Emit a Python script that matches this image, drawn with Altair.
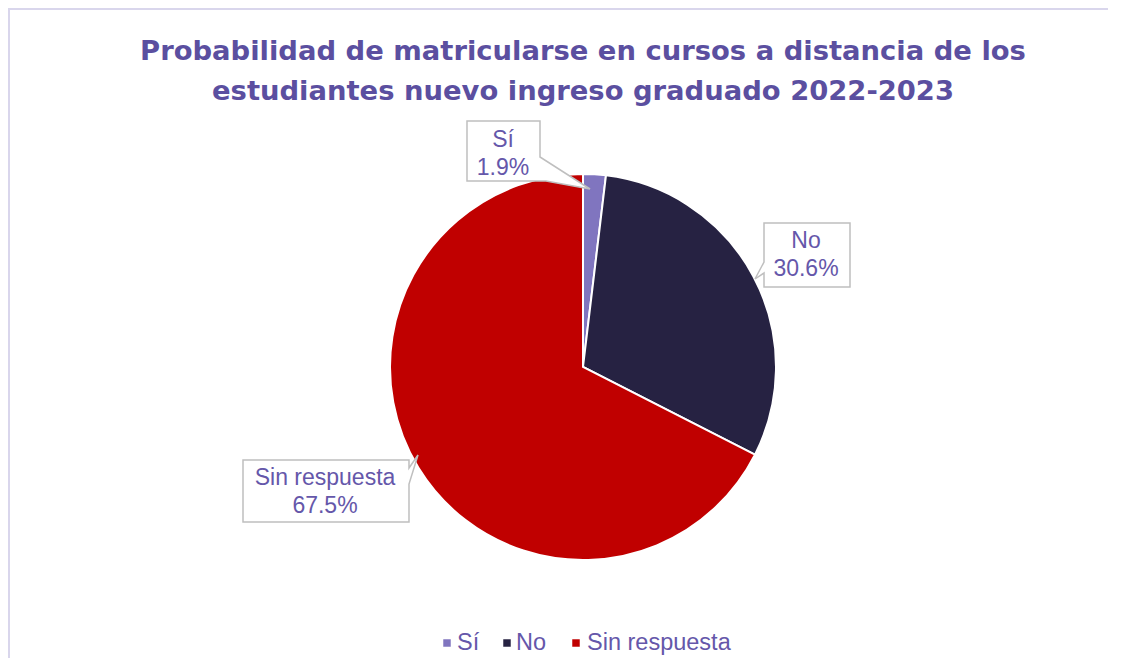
import altair as alt
import pandas as pd

# ---- data ----
categories = ["Sí", "No", "Sin respuesta"]
percentages = [1.9, 30.6, 67.5]
colors = ["#8075BF", "#262242", "#C00000"]
title_lines = [
    "Probabilidad de matricularse en cursos a distancia de los",
    "estudiantes nuevo ingreso graduado 2022-2023",
]

df = pd.DataFrame({"cat": categories, "pct": percentages, "idx": list(range(len(categories)))})

W, H = 1100, 650
PURPLE = "#5B4FA0"
LABEL_PURPLE = "#6557AA"
FONT = "Liberation Sans"


# page coords -> chart coords (8px body margin)
def px(v):
    return v - 8


one = pd.DataFrame({"a": [0]})
FRAME_COLOR = "#D9D6EC"
frame_top = alt.Chart(one).mark_rule(stroke=FRAME_COLOR, strokeWidth=2).encode(
    x=alt.value(0), x2=alt.value(W + 40), y=alt.value(1)
)
frame_left = alt.Chart(one).mark_rule(stroke=FRAME_COLOR, strokeWidth=2).encode(
    x=alt.value(1), y=alt.value(0), y2=alt.value(H + 10)
)

color_scale = alt.Scale(domain=categories, range=colors)

# pie
pie = alt.Chart(df).mark_arc(radius=193, stroke="white", strokeWidth=2).encode(
    theta=alt.Theta("pct:Q", stack=True),
    order=alt.Order("idx:Q"),
    color=alt.Color("cat:N", scale=color_scale, sort=categories, legend=None),
    x=alt.value(px(583)),
    y=alt.value(px(367)),
)


def callout_path(points, cx, cy, h):
    parts = []
    for i, (x, y) in enumerate(points):
        parts.append(("M" if i == 0 else "L") + f"{(x - cx) / h:.4f},{(y - cy) / h:.4f}")
    return " ".join(parts) + " Z"


callouts_geo = {
    "Sí": ([(467, 121), (540, 121), (540, 157), (590, 189), (546, 181), (467, 181)], 529, 155, 64),
    "No": ([(764, 223), (850, 223), (850, 287), (764, 287), (764, 273), (755, 279), (764, 262)], 802.5, 255, 50),
    "Sin respuesta": ([(243, 460), (409, 460), (409, 468), (418, 455), (409, 484), (409, 522), (243, 522)], 330.5, 488.5, 90),
}
# centre of the first text line of each callout
text_pos = {"Sí": (503, 140), "No": (806, 241), "Sin respuesta": (325, 478)}
# legend item positions (square centre x, label start x)
legend_pos = {"Sí": (447, 457), "No": (507, 516), "Sin respuesta": (576, 587)}
LEGEND_Y = 643

layers = [frame_top, frame_left, pie]
for cat in categories:
    pts, cx, cy, h = callouts_geo[cat]
    shape = callout_path(pts, cx, cy, h)
    sub = alt.Chart(df).transform_filter(alt.datum.cat == cat)
    box = sub.mark_point(
        shape=shape, size=(2 * h) ** 2, fill="white", fillOpacity=1, opacity=1,
        stroke="#BFBFBF", strokeWidth=1.5, filled=False,
    ).encode(x=alt.value(px(cx)), y=alt.value(px(cy)))
    tx, ty = text_pos[cat]
    txt = sub.transform_calculate(
        label="datum.cat + '\\n' + format(datum.pct, '.1f') + '%'"
    ).mark_text(
        font=FONT, fontSize=23, color=LABEL_PURPLE, lineBreak="\n", lineHeight=28,
        align="center", baseline="middle",
    ).encode(text="label:N", x=alt.value(px(tx)), y=alt.value(px(ty)))
    sx, lx = legend_pos[cat]
    sq = sub.mark_square(size=56, opacity=1).encode(
        color=alt.Color("cat:N", scale=color_scale, legend=None),
        x=alt.value(px(sx)), y=alt.value(px(LEGEND_Y)),
    )
    lt = sub.mark_text(
        font=FONT, fontSize=23.5, color=LABEL_PURPLE, align="left", baseline="middle",
    ).encode(text="cat:N", x=alt.value(px(lx)), y=alt.value(px(LEGEND_Y)))
    layers += [box, txt, sq, lt]

title_df = pd.DataFrame({"t": title_lines, "i": [0, 1]})
for i, line in enumerate(title_lines):
    t = alt.Chart(title_df).transform_filter(alt.datum.i == i).mark_text(
        font="DejaVu Sans", fontWeight="bold", fontSize=27.4, color=PURPLE,
        align="center", baseline="alphabetic",
    ).encode(text="t:N", x=alt.value(px(583)), y=alt.value(px(60 + 40 * i)))
    layers.append(t)

chart = alt.layer(*layers).properties(
    width=W, height=H, autosize=alt.AutoSizeParams(type="none"), padding=0
).configure_view(strokeWidth=0, stroke="transparent")

chart.save("out.html", embed_options={"renderer": "svg", "actions": False})
